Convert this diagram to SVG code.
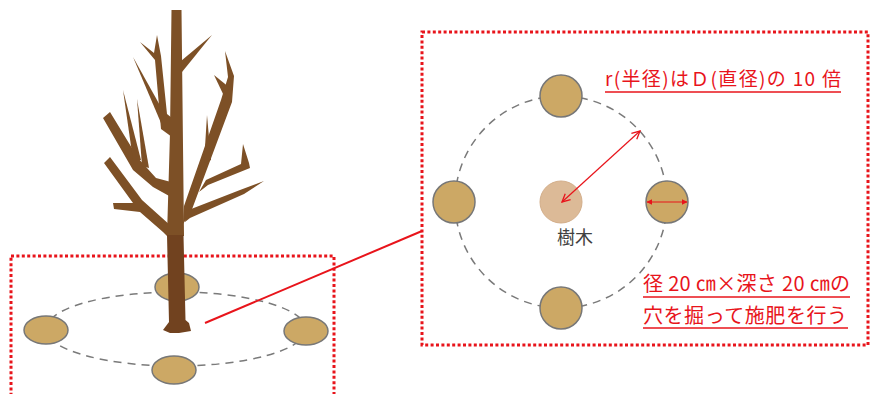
<svg xmlns="http://www.w3.org/2000/svg" width="872" height="394" viewBox="0 0 872 394">
  <defs>
    <style>
      .frame { fill: none; stroke: #E8141B; stroke-width: 3; stroke-dasharray: 3 2.4; }
      .orbit { fill: none; stroke: #7A7A7A; stroke-width: 1.5; stroke-dasharray: 8 6; }
      .hole { fill: #CCA865; stroke: #777; stroke-width: 1.5; }
      .wood { fill: #7D5026; }
      .base { fill: #71421F; }
      .red-text { font-family: "Noto Sans CJK JP", "Noto Sans", sans-serif; fill: #E8141B; }
      .uline { stroke: #E8141B; stroke-width: 1.5; }
      .dim { stroke: #E8141B; stroke-width: 1.2; fill: none; }
    </style>
    <marker id="openHead" viewBox="0 0 10 10" refX="9" refY="5" markerWidth="10" markerHeight="10" markerUnits="userSpaceOnUse" orient="auto-start-reverse">
      <path d="M1,1 L9,5 L1,9" fill="none" stroke="#E8141B" stroke-width="1.3"/>
    </marker>
    <marker id="solidHead" viewBox="0 0 10 10" refX="9" refY="5" markerWidth="6" markerHeight="6" markerUnits="userSpaceOnUse" orient="auto-start-reverse">
      <path d="M0,0 L10,5 L0,10 Z" fill="#E8141B"/>
    </marker>
  </defs>
  <rect width="872" height="394" fill="#FFFFFF"/>

  <!-- perspective view: ring of holes around the planted tree -->
  <g id="ground-view">
    <rect class="frame" x="11" y="256" width="323" height="160"/>
    <ellipse class="orbit" cx="176" cy="329" rx="130" ry="37"/>
    <ellipse class="hole" cx="177" cy="287" rx="22" ry="14"/>
    <ellipse class="hole" cx="46" cy="330" rx="22" ry="14"/>
    <ellipse class="hole" cx="306" cy="331" rx="22" ry="14"/>
    <ellipse class="hole" cx="174" cy="370" rx="22" ry="14"/>
  </g>

  <!-- bare tree -->
  <g id="tree">
    <!-- trunk -->
    <polygon class="wood" points="171.5,10 181.5,10 184,236 167,236 170,133"/>
    <!-- upper right twig -->
    <polygon class="wood" points="181,61 212,35 182,72"/>
    <!-- upper left fork -->
    <polygon class="wood" points="172,137 161,129 155,60 140,42 154,53 157,35 161,56 167,114 172,118"/>
    <polygon class="wood" points="161,123 133,57 167,118"/>
    <!-- middle left limb with spikes -->
    <polygon class="wood" points="171,197 153,187 133,170 103,118 110,112 138,158 156,178 171,182"/>
    <polygon class="wood" points="133,160 123,90 141,160"/>
    <polygon class="wood" points="142,166 137,99 149,168"/>
    <!-- lower left limb -->
    <polygon class="wood" points="171,240 163,232 140,212 114,209 113,203 133,203 104,163 110,157 142,200 171,226"/>
    <!-- right long limb -->
    <polygon class="wood" points="183,224 184,206 221,100 228,77 225,51 234,76 232,102 191,212"/>
    <polygon class="wood" points="224,96 214,75 230,88"/>
    <!-- right middle spike -->
    <polygon class="wood" points="204,163 207,115 211,160"/>
    <!-- right lower limbs -->
    <polygon class="wood" points="185,222 186,211 240,190 264,181 244,194 190,218"/>
    <polygon class="wood" points="199,192 206,180 241,164 243,144 249,163 250,168 208,185"/>
    <!-- lower trunk -->
    <polygon class="base" points="167,235 183.5,235 185.5,320 189,323 191,331 179,333 170,333 163,330 169,322"/>
  </g>

  <!-- link from the ground view to the plan view -->
  <g id="connectors">
    <line x1="205" y1="323" x2="422" y2="231" stroke="#E8141B" stroke-width="2"/>
  </g>

  <!-- plan view -->
  <g id="plan-view">
    <rect class="frame" x="422" y="32" width="446" height="313"/>
    <circle class="orbit" cx="561" cy="202" r="106"/>
    <circle cx="561" cy="202" r="21" fill="#DCBA97" stroke="#D3AE8A" stroke-width="1"/>
    <circle class="hole" cx="561" cy="96" r="21"/>
    <circle class="hole" cx="454" cy="202" r="21"/>
    <circle class="hole" cx="667" cy="202" r="21"/>
    <circle class="hole" cx="561" cy="308" r="21"/>
    <text x="557" y="244" font-family="'Noto Sans CJK JP', 'Noto Sans', sans-serif" font-size="18" fill="#404040">樹木</text>
  </g>

  <!-- dimension arrows -->
  <g id="dimensions">
    <line class="dim" x1="562" y1="202" x2="640" y2="131" marker-start="url(#openHead)" marker-end="url(#openHead)"/>
    <line class="dim" x1="647" y1="202" x2="687" y2="202" marker-start="url(#solidHead)" marker-end="url(#solidHead)"/>
  </g>

  <!-- notes -->
  <g id="note-radius">
    <text class="red-text" x="605" y="86" font-size="19" textLength="236" lengthAdjust="spacing">r(半径)はＤ(直径)の 10 倍</text>
    <line class="uline" x1="605" y1="92" x2="841" y2="92"/>
  </g>
  <g id="note-hole">
    <text class="red-text" x="643" y="291" font-size="20" textLength="207" lengthAdjust="spacing">径 20 ㎝×深さ 20 ㎝の</text>
    <line class="uline" x1="643" y1="297" x2="850" y2="297"/>
    <text class="red-text" x="643" y="323" font-size="20" textLength="204" lengthAdjust="spacing">穴を掘って施肥を行う</text>
    <line class="uline" x1="643" y1="328" x2="848" y2="328"/>
  </g>
</svg>
